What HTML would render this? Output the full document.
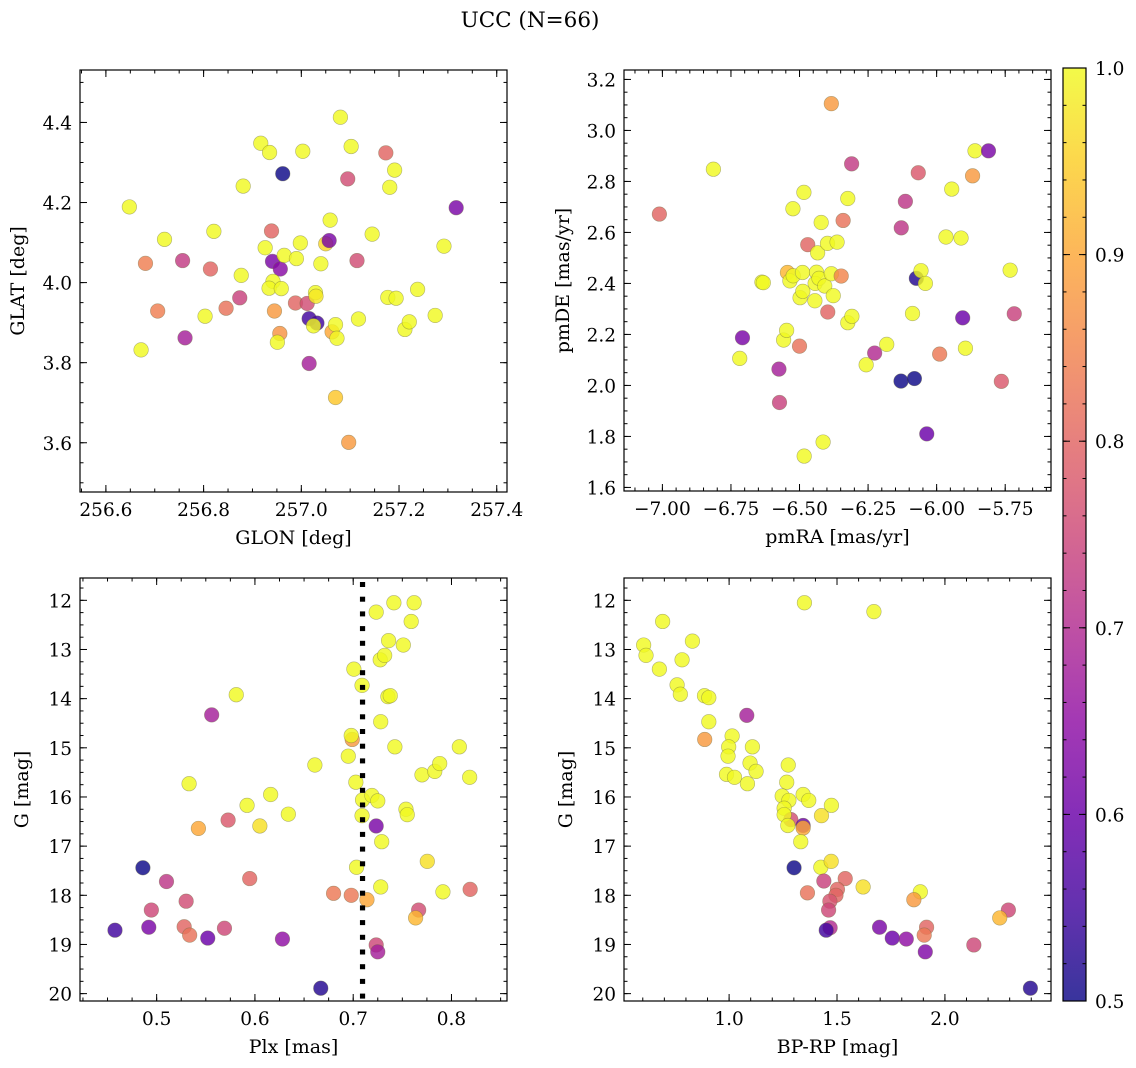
<!DOCTYPE html>
<html><head><meta charset="utf-8"><title>UCC (N=66)</title>
<style>
html,body{margin:0;padding:0;background:#fff;}
svg{display:block;font-family:"DejaVu Serif","Liberation Serif",serif;}
</style></head>
<body>
<svg id="fig" width="1136" height="1068" viewBox="0 0 1136 1068" xmlns="http://www.w3.org/2000/svg">
<rect width="1136" height="1068" fill="#fff"/>
<text x="530" y="27" font-size="21.5" text-anchor="middle">UCC (N=66)</text>
</svg>
<script>
// ---------- Panel 1: GLON vs GLAT ----------
const p1Glon = [256.648,256.72,256.681,256.672,256.706,256.757,256.762,256.821,256.803,256.814,256.846,256.874,256.877,256.881,256.917,256.935,256.926,256.962,256.939,256.941,256.957,256.965,256.942,256.934,256.959,256.945,256.956,256.951,256.99,256.998,257.003,256.988,257.012,257.016,257.032,257.029,257.03,257.025,257.016,257.04,257.05,257.057,257.059,257.063,257.07,257.073,257.07,257.08,257.097,257.102,257.095,257.114,257.117,257.145,257.173,257.181,257.191,257.177,257.194,257.212,257.221,257.238,257.274,257.292,257.317];
const p1Glat = [4.189,4.108,4.048,3.832,3.929,4.055,3.862,4.128,3.916,4.034,3.936,3.962,4.018,4.241,4.348,4.325,4.087,4.272,4.129,4.053,4.034,4.068,4.003,3.986,3.985,3.929,3.873,3.851,4.06,4.099,4.328,3.949,3.948,3.91,3.899,3.975,3.966,3.892,3.798,4.047,4.097,4.105,4.156,3.877,3.895,3.861,3.713,4.413,3.601,4.34,4.259,4.055,3.909,4.121,4.324,4.238,4.281,3.963,3.961,3.883,3.902,3.983,3.918,4.091,4.187];
const p1Prob = [1,1,0.84,1,0.84,0.73,0.68,1,1,0.8,0.82,0.74,1,1,1,1,1,0.5,0.8,0.62,0.64,1,1,1,1,0.88,0.87,1,1,1,1,0.8,0.76,0.55,0.55,1,0.98,1,0.68,1,0.96,0.62,1,0.9,1,1,0.94,1,0.88,1,0.76,0.76,1,1,0.8,1,1,1,1,1,1,1,1,1,0.62];
const p1XTicks = [256.6,256.8,257.0,257.2,257.4];
const p1YTicks = [3.6,3.8,4.0,4.2,4.4];

// ---------- Panel 2: pmRA vs pmDE ----------
const p2Pmra = [-7.011,-6.814,-6.708,-6.718,-6.637,-6.632,-6.575,-6.573,-6.558,-6.547,-6.524,-6.544,-6.535,-6.523,-6.5,-6.498,-6.488,-6.489,-6.484,-6.483,-6.47,-6.444,-6.438,-6.443,-6.429,-6.421,-6.434,-6.414,-6.408,-6.398,-6.397,-6.384,-6.384,-6.377,-6.363,-6.348,-6.341,-6.324,-6.324,-6.309,-6.31,-6.257,-6.226,-6.182,-6.13,-6.081,-6.114,-6.129,-6.088,-6.067,-6.074,-6.057,-6.041,-6.036,-5.989,-5.966,-5.945,-5.911,-5.905,-5.895,-5.869,-5.86,-5.811,-5.764,-5.732,-5.717];
const p2Pmde = [2.672,2.848,2.187,2.106,2.405,2.403,2.064,1.933,2.178,2.216,2.693,2.443,2.41,2.43,2.154,2.344,2.369,2.443,2.757,1.723,2.552,2.332,2.444,2.4,2.42,2.639,2.52,1.778,2.39,2.557,2.288,2.438,3.105,2.352,2.562,2.429,2.647,2.733,2.246,2.271,2.869,2.081,2.127,2.161,2.017,2.027,2.722,2.618,2.282,2.834,2.42,2.45,2.4,1.81,2.123,2.582,2.77,2.578,2.265,2.146,2.822,2.92,2.92,2.016,2.452,2.281];
const p2Prob = [0.8,1,0.62,1,1,1,0.68,0.74,1,1,1,0.92,1,1,0.82,1,1,1,1,1,0.8,1,1,1,1,1,1,1,1,1,0.8,1,0.88,1,1,0.85,0.82,1,1,1,0.73,1,0.7,1,0.5,0.5,0.72,0.72,1,0.78,0.52,1,1,0.6,0.83,1,1,1,0.6,1,0.88,1,0.62,0.78,1,0.74];
const p2XTicks = [-7.00,-6.75,-6.50,-6.25,-6.00,-5.75];
const p2YTicks = [1.6,1.8,2.0,2.2,2.4,2.6,2.8,3.0,3.2];

// ---------- Panel 3: Plx vs G ----------
const p3Plx = [0.4576,0.486,0.51,0.4946,0.492,0.53,0.528,0.5336,0.533,0.5425,0.556,0.552,0.5727,0.569,0.581,0.592,0.5947,0.605,0.616,0.634,0.628,0.661,0.667,0.68,0.698,0.699,0.698,0.695,0.7007,0.709,0.7027,0.7034,0.714,0.7095,0.709,0.719,0.725,0.7234,0.7234,0.725,0.7234,0.728,0.728,0.729,0.7275,0.732,0.736,0.7353,0.7377,0.7424,0.7414,0.751,0.7537,0.755,0.762,0.759,0.7666,0.7635,0.77,0.7754,0.783,0.788,0.7913,0.808,0.819,0.8185];
const p3G = [18.71,17.44,17.72,18.3,18.65,18.12,18.64,18.81,15.73,16.64,14.33,18.87,16.47,18.67,13.92,16.17,17.66,16.59,15.95,16.35,18.89,15.35,19.89,17.96,18.0,14.83,14.75,15.17,13.4,13.73,15.7,17.43,18.09,16.06,16.38,15.97,16.08,16.59,19.01,19.15,12.24,17.83,14.47,16.91,13.21,13.12,12.82,13.96,13.94,14.98,12.05,12.91,16.25,16.36,12.05,12.43,18.3,18.46,15.55,17.31,15.48,15.32,17.93,14.98,17.88,15.6];
const p3Prob = [0.55,0.5,0.72,0.75,0.62,0.76,0.8,0.82,1,0.9,0.68,0.6,0.78,0.75,1,1,0.8,0.97,1,1,0.65,1,0.52,0.83,0.83,0.88,1,1,1,1,1,1,0.9,1,1,1,1,0.62,0.75,0.68,1,1,1,1,1,1,1,1,1,1,1,1,1,1,1,1,0.76,0.92,1,0.97,1,1,1,1,0.8,1];
const p3XTicks = [0.5,0.6,0.7,0.8];
const p3YTicks = [12,13,14,15,16,17,18,19,20];
const p3PlxMedian = [0.7095];

// ---------- Panel 4: BP-RP vs G ----------
const p4Bprp = [0.604,0.615,0.692,0.677,0.782,0.83,0.759,0.774,0.886,0.906,0.906,0.887,1.082,1.014,0.998,0.995,0.988,1.025,1.085,1.097,1.108,1.125,1.274,1.267,1.246,1.277,1.255,1.286,1.255,1.272,1.343,1.343,1.332,1.343,1.369,1.349,1.428,1.474,1.301,1.425,1.473,1.439,1.363,1.538,1.502,1.495,1.467,1.461,1.468,1.45,1.621,1.671,1.697,1.756,1.821,1.886,1.856,1.915,1.904,1.909,2.134,2.294,2.254,2.396];
const p4G = [12.91,13.12,12.43,13.4,13.21,12.83,13.72,13.91,13.94,13.98,14.47,14.83,14.34,14.76,14.98,15.17,15.54,15.6,15.73,15.31,14.98,15.48,15.35,15.7,15.98,16.07,16.23,16.46,16.36,16.58,16.58,16.63,16.91,15.95,16.07,12.05,16.38,16.17,17.44,17.43,17.31,17.71,17.95,17.66,17.88,18.0,18.12,18.3,18.66,18.71,17.83,12.23,18.65,18.87,18.89,17.93,18.09,18.65,18.81,19.15,19.01,18.3,18.46,19.89];
const p4Prob = [1,1,1,1,1,1,1,1,1,1,1,0.88,0.68,1,1,1,1,1,1,1,1,1,1,1,1,1,1,0.76,1,1,0.6,0.9,1,1,1,1,0.97,1,0.5,1,0.97,0.74,0.82,0.8,0.8,0.8,0.77,0.75,0.7,0.55,0.97,1,0.62,0.6,0.65,1,0.88,0.8,0.83,0.63,0.75,0.75,0.92,0.52];
const p4XTicks = [1.0,1.5,2.0];
const p4YTicks = [12,13,14,15,16,17,18,19,20];

// ---------- Colorbar ----------
const cbarTicks = [0.5,0.6,0.7,0.8,0.9,1.0];

const NS = "http://www.w3.org/2000/svg";
const svg = document.getElementById('fig');
const plasma = [[13,8,135],[65,4,157],[106,0,168],[143,13,164],[177,42,144],[204,71,120],[225,100,98],[242,132,75],[252,166,54],[252,206,37],[240,249,33]];
function cmap(v){
  let t = Math.max(0, Math.min(1, (v - 0.5) / 0.5)) * 10;
  let i = Math.min(9, Math.floor(t)), f = t - i;
  const a = plasma[i], b = plasma[i+1];
  return 'rgb(' + [0,1,2].map(k => Math.round(a[k] + (b[k]-a[k])*f)).join(',') + ')';
}
function mk(tag, attrs, parent){
  const e = document.createElementNS(NS, tag);
  for (const k in attrs) e.setAttribute(k, attrs[k]);
  (parent || svg).appendChild(e);
  return e;
}
function fmt(v, dec){ return v.toFixed(dec).replace('-', '\u2212'); }
const TICK_FS = 18.5, LABEL_FS = 19;

function panel(cfg){
  const g = mk('g', {});
  
  
  const L = cfg.box[0], T = cfg.box[1], R = cfg.box[2], B = cfg.box[3];
  const sx = v => L + (v - cfg.xr[0]) / (cfg.xr[1] - cfg.xr[0]) * (R - L);
  const sy = cfg.yInv ? (v => T + (v - cfg.yr[0]) / (cfg.yr[1] - cfg.yr[0]) * (B - T))
                      : (v => B - (v - cfg.yr[0]) / (cfg.yr[1] - cfg.yr[0]) * (B - T));
  const pg = mk('g', {}, g);
  
  
  for (let i = 0; i < cfg.xs.length; i++){
    const c = mk('circle', {cx: sx(cfg.xs[i]), cy: sy(cfg.ys[i]), r: 7.3, fill: cmap(cfg.ps[i]), 'fill-opacity': 0.82, stroke: '#6b6b40', 'stroke-opacity': 0.5, 'stroke-width': 0.6}, pg);
    
    
  }
  const fr = mk('rect', {x: L, y: T, width: R - L, height: B - T, fill: 'none', stroke: '#000', 'stroke-width': 1.2}, g);
  
  
  if (cfg.vline){
    const vg = mk('g', {fill: '#000'}, g);
    
    
    const vx = sx(cfg.vline[0]);
    for (let y = T + 4; y < B - 2; y += 14.7){
      mk('rect', {x: vx - 2.6, y: y, width: 5.2, height: 5, fill: '#000'}, vg);
    }
  }
  const tg = mk('g', {stroke: '#000', 'stroke-width': 1}, g);
  for (let v = Math.ceil(cfg.xr[0] / cfg.xminor) * cfg.xminor; v <= cfg.xr[1]; v += cfg.xminor){
    const x = sx(v);
    mk('line', {x1: x, x2: x, y1: B, y2: B - 3.5}, tg);
    mk('line', {x1: x, x2: x, y1: T, y2: T + 3.5}, tg);
  }
  for (let v = Math.ceil(cfg.yr[0] / cfg.yminor) * cfg.yminor; v <= cfg.yr[1]; v += cfg.yminor){
    const y = sy(v);
    mk('line', {x1: L, x2: L + 3.5, y1: y, y2: y}, tg);
    mk('line', {x1: R, x2: R - 3.5, y1: y, y2: y}, tg);
  }
  cfg.xt.forEach(v => {
    const x = sx(v);
    mk('line', {x1: x, x2: x, y1: B, y2: B - 7}, tg);
    mk('line', {x1: x, x2: x, y1: T, y2: T + 7}, tg);
    const t = mk('text', {x: x, y: B + 24, 'font-size': TICK_FS, 'text-anchor': 'middle'}, g);
    t.textContent = fmt(v, cfg.xdec);
    
    
  });
  cfg.yt.forEach(v => {
    const y = sy(v);
    mk('line', {x1: L, x2: L + 7, y1: y, y2: y}, tg);
    mk('line', {x1: R, x2: R - 7, y1: y, y2: y}, tg);
    const t = mk('text', {x: L - 8, y: y + 7, 'font-size': TICK_FS, 'text-anchor': 'end'}, g);
    t.textContent = fmt(v, cfg.ydec);
    
    
  });
  const xl = mk('text', {x: (L + R) / 2, y: B + 52, 'font-size': LABEL_FS, 'text-anchor': 'middle'}, g);
  xl.textContent = cfg.xlabel;
  
  
  const yx = cfg.ylx, yy = (T + B) / 2;
  const yl = mk('text', {x: yx, y: yy, 'font-size': LABEL_FS, 'text-anchor': 'middle', transform: 'rotate(-90 ' + yx + ' ' + yy + ')'}, g);
  yl.textContent = cfg.ylabel;
  
  
}

panel({name: 'glon-glat-panel', box: [80,70,507,492], xr: [256.547,257.421], yr: [3.477,4.531], xs: p1Glon, ys: p1Glat, ps: p1Prob, xt: p1XTicks, yt: p1YTicks, xminor: 0.05, yminor: 0.05, xdec: 1, ydec: 1, xlabel: 'GLON [deg]', ylabel: 'GLAT [deg]', ylx: 24});
panel({name: 'pm-panel', box: [624,70,1051,491], xr: [-7.14,-5.583], yr: [1.586,3.237], xs: p2Pmra, ys: p2Pmde, ps: p2Prob, xt: p2XTicks, yt: p2YTicks, xminor: 0.05, yminor: 0.05, xdec: 2, ydec: 1, xlabel: 'pmRA [mas/yr]', ylabel: 'pmDE [mas/yr]', ylx: 569});
panel({name: 'plx-g-panel', box: [80,578,507,1001], xr: [0.422,0.8565], yr: [11.546,20.15], yInv: true, xs: p3Plx, ys: p3G, ps: p3Prob, xt: p3XTicks, yt: p3YTicks, xminor: 0.025, yminor: 0.25, xdec: 1, ydec: 0, xlabel: 'Plx [mas]', ylabel: 'G [mag]', ylx: 28, vline: p3PlxMedian});
panel({name: 'cmd-panel', box: [624,578,1051,1001], xr: [0.513,2.4915], yr: [11.546,20.15], yInv: true, xs: p4Bprp, ys: p4G, ps: p4Prob, xt: p4XTicks, yt: p4YTicks, xminor: 0.1, yminor: 0.25, xdec: 1, ydec: 0, xlabel: 'BP-RP [mag]', ylabel: 'G [mag]', ylx: 572});

(function(){
  const L = 1063, T = 68, W = 23, H = 933;
  const defs = mk('defs', {});
  const grad = mk('linearGradient', {id: 'cbg', x1: 0, y1: 1, x2: 0, y2: 0}, defs);
  for (let i = 0; i <= 20; i++){
    mk('stop', {offset: (i / 20), 'stop-color': cmap(0.5 + i / 40), 'stop-opacity': 0.82}, grad);
  }
  const cg = mk('g', {});
  
  
  mk('rect', {x: L, y: T, width: W, height: H, fill: 'url(#cbg)', stroke: '#000', 'stroke-width': 1.2}, cg);
  const sy = v => T + H - (v - 0.5) / 0.5 * H;
  for (let v = 0.5; v <= 1.0001; v += 0.02){
    mk('line', {x1: L + W, x2: L + W - 3.5, y1: sy(v), y2: sy(v), stroke: '#000', 'stroke-width': 1}, cg);
    mk('line', {x1: L, x2: L + 3.5, y1: sy(v), y2: sy(v), stroke: '#000', 'stroke-width': 1}, cg);
  }
  cbarTicks.forEach(v => {
    mk('line', {x1: L + W, x2: L + W - 7, y1: sy(v), y2: sy(v), stroke: '#000', 'stroke-width': 1}, cg);
    mk('line', {x1: L, x2: L + 7, y1: sy(v), y2: sy(v), stroke: '#000', 'stroke-width': 1}, cg);
    const t = mk('text', {x: L + W + 9, y: sy(v) + 7, 'font-size': TICK_FS}, cg);
    t.textContent = v.toFixed(1);
    
    
  });
})();
</script>
</body></html>
